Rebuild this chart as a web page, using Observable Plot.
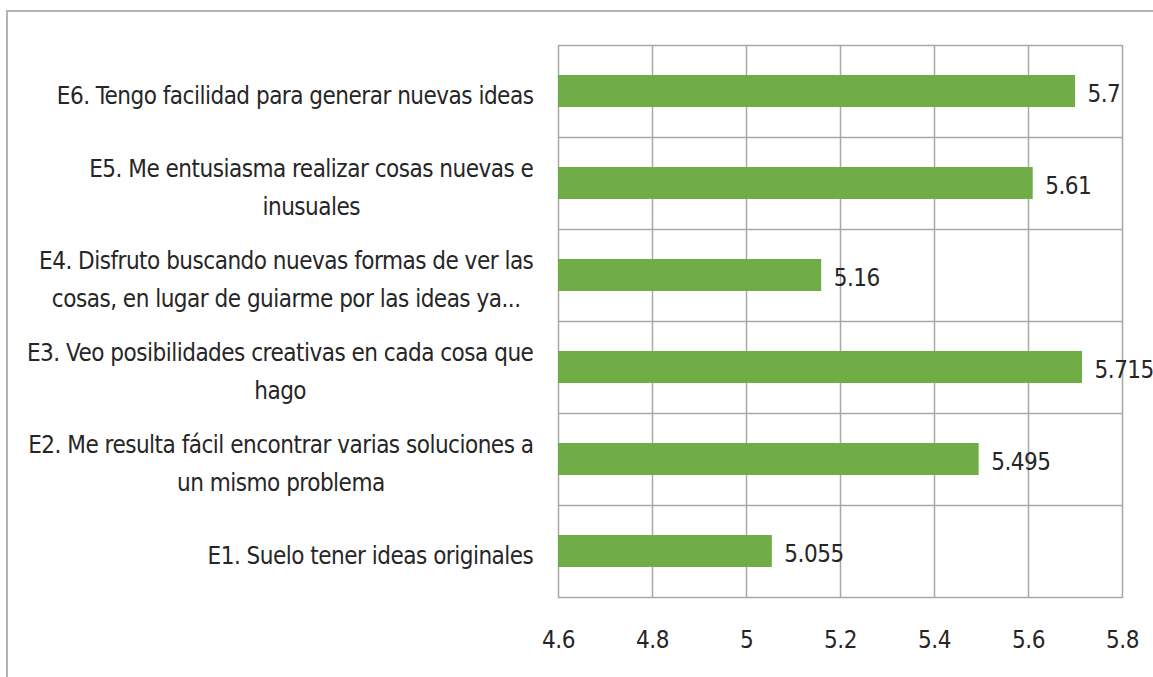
<!DOCTYPE html>
<html><head><meta charset="utf-8">
<script src="https://cdn.jsdelivr.net/npm/d3@7"></script>
<script src="https://cdn.jsdelivr.net/npm/@observablehq/plot@0.6"></script>
<style>
body{margin:0;background:#fff;overflow:hidden;}
#frame{position:absolute;left:6px;top:10px;width:1300px;height:800px;border-top:2px solid #b4b4b4;border-left:2px solid #b4b4b4;}
#chart{position:absolute;left:0;top:0;}
</style></head><body><div id="frame"></div><div id="chart"></div>
<script>
const categories = [
  "E6. Tengo facilidad para generar nuevas ideas",
  "E5. Me entusiasma realizar cosas nuevas e\ninusuales",
  "E4. Disfruto buscando nuevas formas de ver las\ncosas, en lugar de guiarme por las ideas ya...",
  "E3. Veo posibilidades creativas en cada cosa que\nhago",
  "E2. Me resulta fácil encontrar varias soluciones a\nun mismo problema",
  "E1. Suelo tener ideas originales"
];
const values = [5.7, 5.61, 5.16, 5.715, 5.495, 5.055];
const valueLabels = ["5.7", "5.61", "5.16", "5.715", "5.495", "5.055"];
const xTicks = [4.6, 4.8, 5, 5.2, 5.4, 5.6, 5.8];
const xTickLabels = ["4.6", "4.8", "5", "5.2", "5.4", "5.6", "5.8"];

const data = categories.map((c, i) => ({category: c, value: values[i], label: valueLabels[i]}));
const W = 1153, H = 677, mT = 45, mB = 79, mL = 558, mR = 31;
const step = (H - mT - mB) / categories.length;
const font = "'Liberation Sans Narrow', 'DejaVu Sans Condensed', 'Arial Narrow', sans-serif";
const grid = "#a8a8a8";

const plot = Plot.plot({
  width: W, height: H,
  marginTop: mT, marginBottom: mB, marginLeft: mL, marginRight: mR,
  style: {fontFamily: font, fontSize: "24px", color: "#262626", background: "transparent", letterSpacing: "-0.5px"},
  x: {domain: [xTicks[0], xTicks[xTicks.length - 1]], label: null},
  y: {domain: categories, paddingInner: 0.65, paddingOuter: 0.325, label: null},
  marks: [
    Plot.gridX(xTicks, {stroke: grid, strokeOpacity: 1, strokeWidth: 1.5}),
    Plot.ruleY(categories, {y: d => d, dy: -step / 2, stroke: grid, strokeWidth: 1.5}),
    Plot.ruleY([categories[categories.length - 1]], {y: d => d, dy: step / 2, stroke: grid, strokeWidth: 1.5}),
    Plot.barX(data, {y: "category", x1: () => xTicks[0], x2: "value", fill: "#70AD47"}),
    Plot.text(data, {y: "category", x: "value", text: "label", textAnchor: "start", dx: 12, dy: 3, fill: "#262626", fontSize: 24}),
    Plot.axisX(xTicks, {tickSize: 0, tickPadding: 32, fontSize: 24, label: null, tickFormat: d => xTickLabels[xTicks.indexOf(d)]}),
    Plot.axisY({tickSize: 0, tickPadding: 25, fontSize: 24, lineHeight: 1.6, label: null})
  ]
});
document.getElementById("chart").appendChild(plot);

// center wrapped lines within each label block (right edge fixed)
plot.querySelectorAll('g[aria-label="y-axis tick label"] text').forEach(t => {
  const w = t.getBBox().width;
  t.setAttribute("text-anchor", "middle");
  const tr = t.getAttribute("transform") || "";
  t.setAttribute("transform", tr + ` translate(${-w / 2},0)`);
});
</script></body></html>
